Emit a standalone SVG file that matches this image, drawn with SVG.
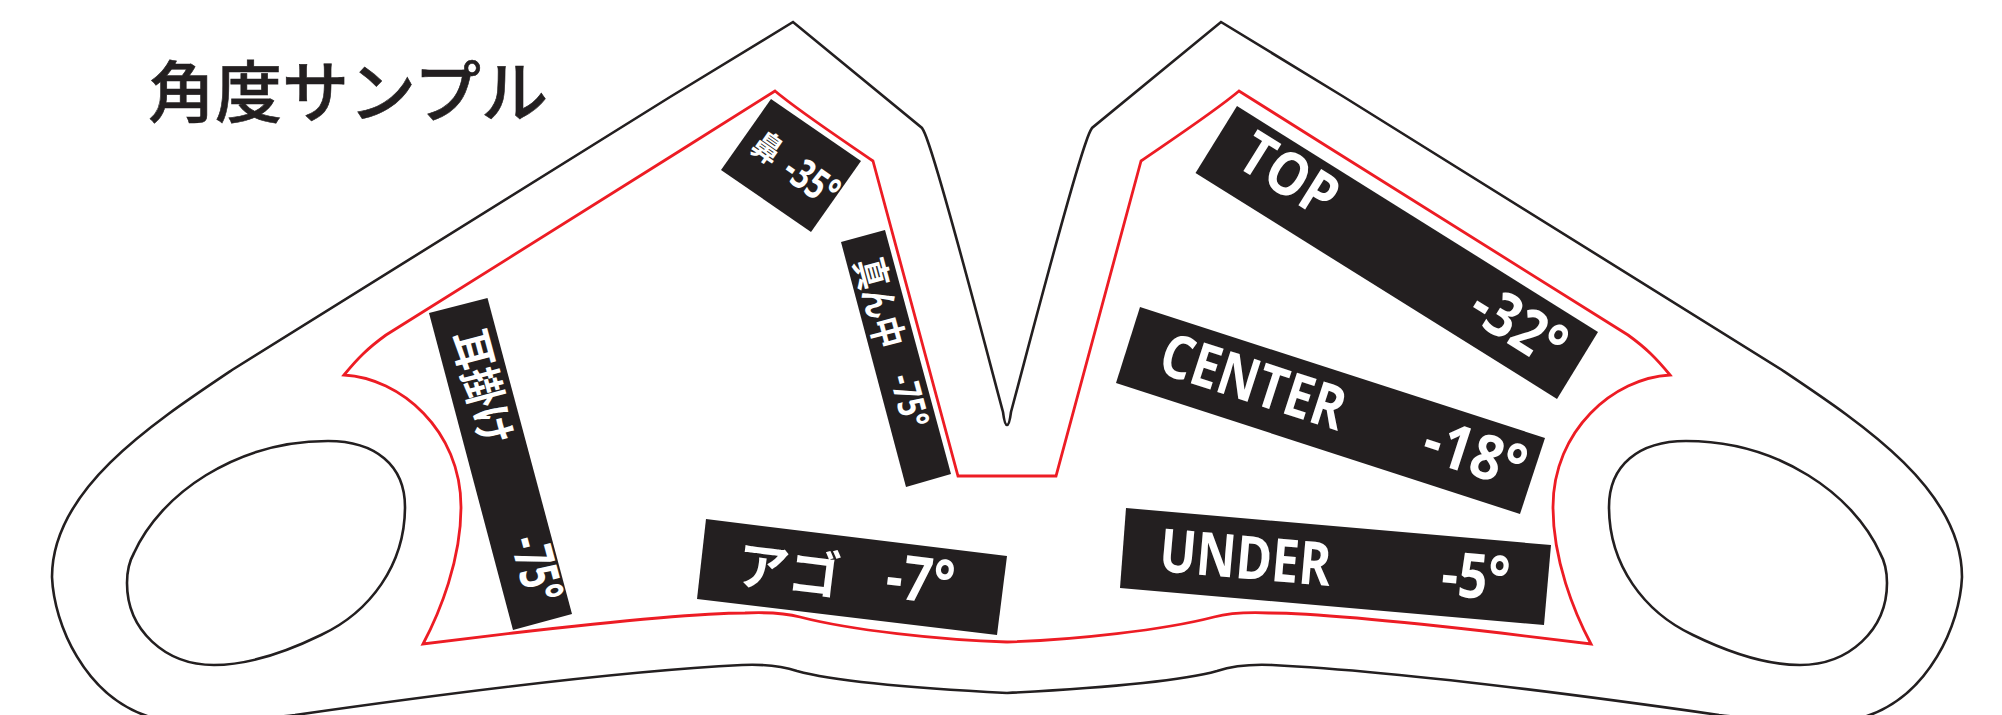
<svg xmlns="http://www.w3.org/2000/svg" width="2002" height="715" viewBox="0 0 2002 715">
<style>
.k{fill:none;stroke:#231f20;stroke-width:2.6}
.r{fill:none;stroke:#ed1c24;stroke-width:2.8}
.b{fill:#231f20}
.t{fill:#fff;font-family:"Open Sans","Noto Sans CJK JP",sans-serif;font-weight:700}
.j{fill:#fff;font-family:"Noto Sans CJK JP",sans-serif;font-weight:700}
.title{fill:#231f20;font-family:"Noto Sans CJK JP",sans-serif;font-size:67px;font-weight:500;stroke:#231f20;stroke-width:.6}
</style>
<defs>
<path id="outer" class="k" d="M1007,425 C1005,425 1004,420 1003,412 C985,345 945,190 928,142 C926,136 924,131 922,128 L793,22 L670,97 L232,370 C150,425 52,490 52,577 C54,625 85,695 147,716 C170,728 270,718 295,715 C400,700 600,672 742,665 C765,664 782,666 797,671 C840,683 930,689 1007,693"/>
<path id="inner" class="r" d="M1007,476 L958,476 L873,161 C850,145 800,112 775,91 L686,147 L386,335 C368,348 358,358 344,375 C400,378 461,430 461,507 C461,560 440,612 423,644 L513,633 C600,623 700,613 745,613 C770,612 785,613 800,617 C850,630 940,640 1007,642"/>
<path id="hole" class="k" d="M328,441 C375,441 405,465 405,507 C405,565 370,612 321,635 C280,655 245,665 214,665 C165,665 127,630 127,583 C127,570 130,560 134,553 C160,495 235,441 328,441 Z"/>
</defs>
<g id="outline">
<use href="#outer"/><use href="#outer" transform="translate(2014,0) scale(-1,1)"/>
<use href="#hole"/><use href="#hole" transform="translate(2014,0) scale(-1,1)"/>
<use href="#inner"/><use href="#inner" transform="translate(2014,0) scale(-1,1)"/>
</g>
<text id="title" class="title" x="148" y="117">角度サンプル</text>
<g id="label-mimi">
<polygon class="b" points="429,313 487.5,298 572,614 513,630"/>
<text class="j" font-size="44" textLength="117" lengthAdjust="spacingAndGlyphs" transform="translate(452,335) rotate(75)">耳掛け</text>
<text class="t" font-size="54" textLength="67" lengthAdjust="spacingAndGlyphs" transform="translate(510,541) rotate(75)">-75°</text>
</g>
<g id="label-hana">
<polygon class="b" points="771,99 861,161 811,232 721,170"/>
<text class="j" font-size="34" textLength="28" lengthAdjust="spacingAndGlyphs" transform="translate(749,150) rotate(35)">鼻</text>
<text class="t" font-size="42" textLength="57" lengthAdjust="spacingAndGlyphs" transform="translate(780,176) rotate(35)">-35°</text>
</g>
<g id="label-mannaka">
<polygon class="b" points="841,242 885,230 951,474 906,487"/>
<text class="j" font-size="38" textLength="92" lengthAdjust="spacingAndGlyphs" transform="translate(854,262) rotate(75)">真ん中</text>
<text class="t" font-size="38" textLength="54" lengthAdjust="spacingAndGlyphs" transform="translate(890,378) rotate(75)">-75°</text>
</g>
<g id="label-ago">
<polygon class="b" points="706,519 1007,556 997,635 697,599"/>
<text class="j" font-size="52" transform="translate(735,583) rotate(7)">アゴ</text>
<text class="t" font-size="62" textLength="68" lengthAdjust="spacingAndGlyphs" transform="translate(884,597) rotate(7)">-7°</text>
</g>
<g id="label-top">
<polygon class="b" points="1237,106 1598,332 1557,399 1195.5,173"/>
<text class="t" font-size="60" textLength="104" lengthAdjust="spacingAndGlyphs" transform="translate(1234,165) rotate(32)">TOP</text>
<text class="t" font-size="62" textLength="100" lengthAdjust="spacingAndGlyphs" transform="translate(1465,317) rotate(32)">-32°</text>
</g>
<g id="label-center">
<polygon class="b" points="1140,307 1545,438 1520,514 1116,383"/>
<text class="t" font-size="60" textLength="191" lengthAdjust="spacingAndGlyphs" transform="translate(1156,372) rotate(18)">CENTER</text>
<text class="t" font-size="62" textLength="104" lengthAdjust="spacingAndGlyphs" transform="translate(1419,458) rotate(18)">-18°</text>
</g>
<g id="label-under">
<polygon class="b" points="1126,508 1551,545 1544,625 1120,588"/>
<text class="t" font-size="60" textLength="172" lengthAdjust="spacingAndGlyphs" transform="translate(1158,571) rotate(5)">UNDER</text>
<text class="t" font-size="62" textLength="68" lengthAdjust="spacingAndGlyphs" transform="translate(1440,595) rotate(5)">-5°</text>
</g>
</svg>
